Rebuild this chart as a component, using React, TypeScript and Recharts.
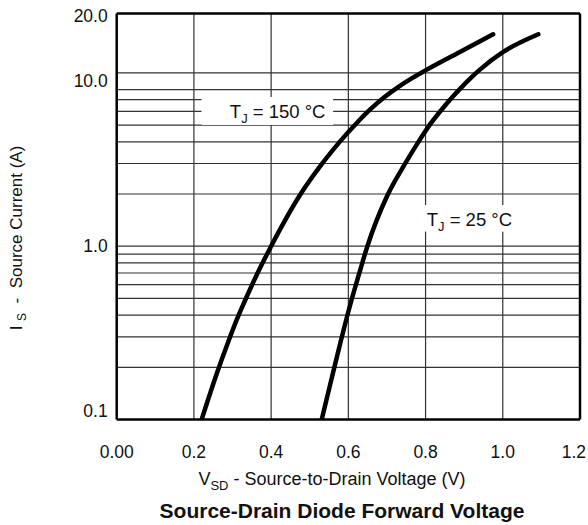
import React from 'react';
import { LineChart, Line, XAxis, YAxis, ReferenceLine, ReferenceDot } from 'recharts';

// Body diode forward characteristic
const VSD_TJ150 = [0.220, 0.2595, 0.289, 0.3115, 0.331, 0.3625, 0.398, 0.474, 0.532, 0.578, 0.620, 0.658, 0.693, 0.728, 0.767, 0.802, 0.889, 0.975];
const IS_TJ150 = [0.1, 0.185, 0.281, 0.379, 0.478, 0.682, 0.98, 1.96, 2.99, 4.01, 5.09, 6.19, 7.23, 8.25, 9.38, 10.4, 13.2, 16.7];

const VSD_TJ25 = [0.531, 0.560, 0.580, 0.607, 0.627, 0.648, 0.701, 0.747, 0.782, 0.813, 0.843, 0.869, 0.893, 0.918, 0.940, 1.001, 1.092];
const IS_TJ25 = [0.1, 0.185, 0.281, 0.478, 0.682, 0.98, 1.96, 2.99, 4.01, 5.09, 6.19, 7.23, 8.25, 9.38, 10.4, 13.2, 16.7];

const X_TICKS = [0, 0.2, 0.4, 0.6, 0.8, 1.0, 1.2];
const Y_TICKS = [0.1, 1, 10, 20];
const X_GRID = [0.2, 0.4, 0.6, 0.8, 1.0];
const Y_GRID = [0.2, 0.3, 0.4, 0.5, 0.6, 0.7, 0.8, 0.9, 1, 2, 3, 4, 5, 6, 7, 8, 10];

const X_DOMAIN = [0, 1.2];
const Y_DOMAIN = [0.1, 22];

const FONT = '"Liberation Sans", Arial, Helvetica, sans-serif';
const INK = '#111';

const tj150 = VSD_TJ150.map((v, i) => ({ v, is: IS_TJ150[i] }));
const tj25 = VSD_TJ25.map((v, i) => ({ v, is: IS_TJ25[i] }));

// nudges so the y labels sit like the printed ones
const Y_LABEL_NUDGE: Record<number, number> = { 0.1: -9, 10: 8, 20: -5 };

const XTick = (props: any) => {
  const { x, y, payload } = props;
  const val = payload.value;
  const last = val === 1.2;
  return (
    <text
      x={last ? x + 6 : x}
      y={y + 32}
      textAnchor={last ? 'end' : 'middle'}
      dominantBaseline="central"
      fill={INK}
      style={{ fontFamily: FONT, fontSize: 17.5 }}
    >
      {val === 0 ? '0.00' : val.toFixed(1)}
    </text>
  );
};

const YTick = (props: any) => {
  const { x, y, payload } = props;
  const val = payload.value;
  return (
    <text
      x={x - 9}
      y={y + (Y_LABEL_NUDGE[val] || 0)}
      textAnchor="end"
      dominantBaseline="central"
      fill={INK}
      style={{ fontFamily: FONT, fontSize: 17.5 }}
    >
      {val.toFixed(1)}
    </text>
  );
};

// white boxed temperature tag, anchored at the text start / baseline
const tempTag = (temp: string, box: { dx: number; dy: number; w: number; h: number }) => (props: any) => {
  const { viewBox } = props;
  if (!viewBox) return null;
  const x = viewBox.x + (viewBox.width || 0) / 2;
  const y = viewBox.y + (viewBox.height || 0) / 2;
  return (
    <g>
      <rect x={x + box.dx} y={y + box.dy} width={box.w} height={box.h} fill="#fff" />
      <text x={x} y={y} fill={INK} style={{ fontFamily: FONT, fontSize: 18.5 }}>
        <tspan>T</tspan>
        <tspan dy={5} style={{ fontSize: 13 }}>J</tspan>
        <tspan dy={-5}>{` = ${temp} °C`}</tspan>
      </text>
    </g>
  );
};

export default function App() {
  return (
    <div style={{ position: 'absolute', left: 0, top: 0, width: 588, height: 525, background: '#fff' }}>
      <LineChart
        width={588}
        height={525}
        margin={{ top: 13.5, right: 8, left: 0, bottom: 0 }}
      >
        <XAxis
          dataKey="v"
          type="number"
          domain={X_DOMAIN}
          ticks={X_TICKS}
          allowDataOverflow
          height={105.5}
          axisLine={false}
          tickLine={false}
          tickSize={0}
          tickMargin={0}
          tick={<XTick />}
          interval={0}
        />
        <YAxis
          type="number"
          scale="log"
          domain={Y_DOMAIN}
          ticks={Y_TICKS}
          allowDataOverflow
          width={116.7}
          axisLine={false}
          tickLine={false}
          tickSize={0}
          tickMargin={0}
          tick={<YTick />}
          interval={0}
        />

        {X_GRID.map((v) => (
          <ReferenceLine key={'gx' + v} x={v} stroke="#333" strokeWidth={1.2} />
        ))}
        {Y_GRID.map((v) => (
          <ReferenceLine key={'gy' + v} y={v} stroke="#333" strokeWidth={1.2} />
        ))}

        {/* frame */}
        <ReferenceLine x={X_DOMAIN[0]} stroke="#000" strokeWidth={2.5} />
        <ReferenceLine x={X_DOMAIN[1]} stroke="#000" strokeWidth={2.5} />
        <ReferenceLine y={Y_DOMAIN[0]} stroke="#000" strokeWidth={2.5} />
        <ReferenceLine y={Y_DOMAIN[1]} stroke="#000" strokeWidth={2.5} />

        <ReferenceDot
          x={0.293}
          y={5.47}
          r={0}
          fill="none"
          stroke="none"
          label={tempTag('150', { dx: -28.3, dy: -21.3, w: 131.6, h: 28 })}
        />
        <ReferenceDot
          x={0.803}
          y={1.308}
          r={0}
          fill="none"
          stroke="none"
          label={tempTag('25', { dx: -6, dy: -21, w: 100, h: 26.7 })}
        />

        <Line
          data={tj150}
          dataKey="is"
          type="monotone"
          stroke="#000"
          strokeWidth={4.5}
          strokeLinecap="round"
          dot={false}
          activeDot={false}
          isAnimationActive={false}
        />
        <Line
          data={tj25}
          dataKey="is"
          type="monotone"
          stroke="#000"
          strokeWidth={4.5}
          strokeLinecap="round"
          dot={false}
          activeDot={false}
          isAnimationActive={false}
        />
      </LineChart>

      {/* axis titles */}
      <div
        style={{
          position: 'absolute',
          left: 18,
          top: 238,
          transform: 'translate(-50%, -50%) rotate(-90deg)',
          whiteSpace: 'pre',
          fontFamily: FONT,
          fontSize: 17,
          lineHeight: 1,
          color: INK,
        }}
      >
        I <sub style={{ fontSize: 12 }}>S</sub>{'  -  '}Source Current (A)
      </div>
      <div
        style={{
          position: 'absolute',
          left: 332,
          top: 481,
          transform: 'translate(-50%, -50%)',
          whiteSpace: 'pre',
          fontFamily: FONT,
          fontSize: 18,
          lineHeight: 1,
          color: INK,
        }}
      >
        V<sub style={{ fontSize: 13 }}>SD</sub> - Source-to-Drain Voltage (V)
      </div>
      <div
        style={{
          position: 'absolute',
          left: 342,
          top: 510,
          transform: 'translate(-50%, -50%)',
          whiteSpace: 'pre',
          fontFamily: FONT,
          fontSize: 21,
          fontWeight: 'bold',
          lineHeight: 1,
          color: INK,
        }}
      >
        Source-Drain Diode Forward Voltage
      </div>
    </div>
  );
}
